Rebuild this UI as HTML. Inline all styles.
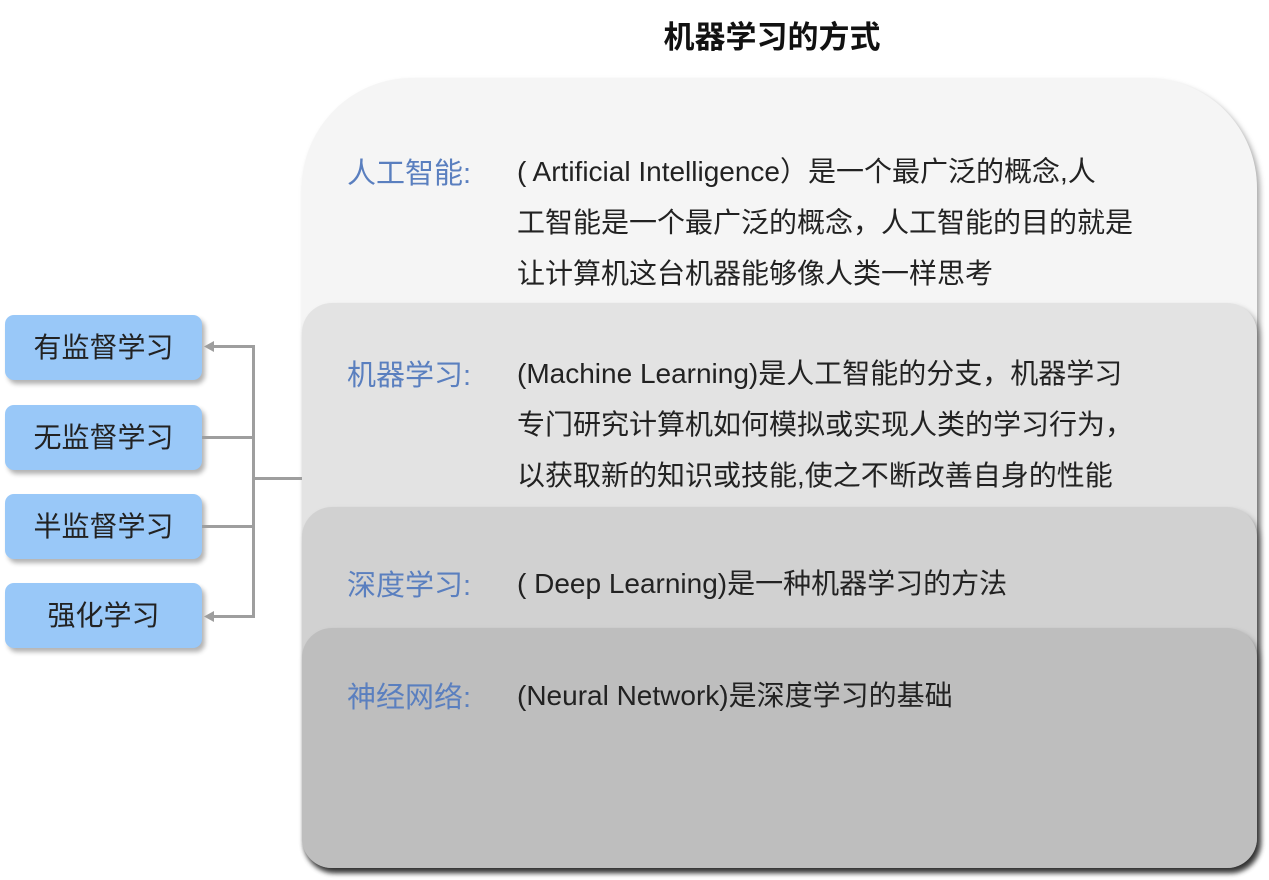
<!DOCTYPE html>
<html><head><meta charset="utf-8"><style>
body{margin:0;width:1269px;height:880px;background:#fff;position:relative;overflow:hidden;font-family:"Liberation Sans","Noto Sans CJK SC",sans-serif;}
.t{position:absolute;white-space:nowrap;}
.title{left:0;width:1269px;padding-left:275px;box-sizing:border-box;text-align:center;top:12px;font-size:31px;font-weight:bold;color:#111;}
.layer{position:absolute;left:302px;width:955px;bottom:12px;border-radius:30px;box-shadow:3px 4px 6px rgba(0,0,0,0.35);}
.lab{font-size:29px;color:#5a7fbf;left:347px;}
.bd{font-size:28px;color:#222;left:517px;}
.box{position:absolute;left:5px;width:197px;height:65px;background:#99c8f8;border-radius:9px;box-shadow:3px 4px 5px rgba(0,0,0,0.3);font-size:28px;color:#222;text-align:center;line-height:65px;}
.ln{position:absolute;background:#9e9e9e;}
</style></head><body>
<div class="t title">机器学习的方式</div>
<div class="layer" style="top:78px;background:#f5f5f5;border-radius:110px 110px 30px 30px;"></div>
<div class="layer" style="top:303px;background:#e3e3e3;"></div>
<div class="layer" style="top:507px;background:#d1d1d1;"></div>
<div class="layer" style="top:628px;background:#bebebe;"></div>

<div class="t lab" style="top:150px">人工智能:</div>
<div class="t bd" style="top:150px">( Artificial Intelligence）是一个最广泛的概念,人</div>
<div class="t bd" style="top:201px">工智能是一个最广泛的概念，人工智能的目的就是</div>
<div class="t bd" style="top:252px">让计算机这台机器能够像人类一样思考</div>

<div class="t lab" style="top:352px">机器学习:</div>
<div class="t bd" style="top:352px">(Machine Learning)是人工智能的分支，机器学习</div>
<div class="t bd" style="top:403px">专门研究计算机如何模拟或实现人类的学习行为，</div>
<div class="t bd" style="top:454px">以获取新的知识或技能,使之不断改善自身的性能</div>

<div class="t lab" style="top:562px">深度学习:</div>
<div class="t bd" style="top:562px">( Deep Learning)是一种机器学习的方法</div>

<div class="t lab" style="top:674px">神经网络:</div>
<div class="t bd" style="top:674px">(Neural Network)是深度学习的基础</div>

<div class="box" style="top:315px">有监督学习</div>
<div class="box" style="top:405px">无监督学习</div>
<div class="box" style="top:494px">半监督学习</div>
<div class="box" style="top:583px">强化学习</div>

<div class="ln" style="left:252px;top:345px;width:3px;height:273px"></div>
<div class="ln" style="left:252px;top:477px;width:50px;height:3px"></div>
<div class="ln" style="left:210px;top:345px;width:44px;height:3px"></div>
<div class="ln" style="left:210px;top:615px;width:44px;height:3px"></div>
<div class="ln" style="left:202px;top:436px;width:52px;height:3px"></div>
<div class="ln" style="left:202px;top:525px;width:52px;height:3px"></div>
<svg style="position:absolute;left:0;top:0" width="300" height="700">
<polygon points="204,346.5 214,341 214,352" fill="#9e9e9e"/>
<polygon points="204,616.5 214,611 214,622" fill="#9e9e9e"/>
</svg>
</body></html>
